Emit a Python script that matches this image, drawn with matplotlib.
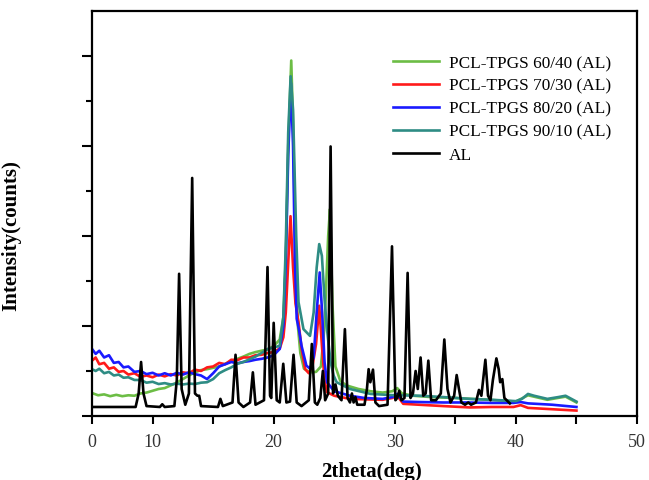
import matplotlib
matplotlib.use("Agg")
import matplotlib.pyplot as plt
from matplotlib.ticker import FixedLocator

plt.rcParams['font.family'] = ['Liberation Serif', 'DejaVu Serif']

# XRD patterns, 2theta (deg) vs intensity (arbitrary units)
al_x = [5.0, 8.6, 8.85, 9.05, 9.25, 9.5, 10.6, 10.8, 11.0, 11.8, 12.0, 12.19, 12.4, 12.7,
        13.0, 13.27, 13.5, 13.7, 13.85, 14.0, 15.4, 15.6, 15.8, 16.6, 16.85, 17.1, 17.5,
        18.05, 18.28, 18.5, 19.2, 19.49, 19.7, 19.8, 20.0, 20.25, 20.5, 20.79, 21.05, 21.35,
        21.64, 21.9, 22.3, 22.9, 23.15, 23.4, 23.6, 23.85, 24.06, 24.25, 24.5, 24.7, 24.9,
        25.1, 25.3, 25.6, 25.88, 26.1, 26.3, 26.46, 26.6, 26.75, 26.9, 27.5, 27.7, 27.84,
        27.98, 28.2, 28.4, 28.7, 29.4, 29.77, 30.05, 30.2, 30.37, 30.55, 30.8, 31.06, 31.3,
        31.5, 31.72, 31.9, 32.13, 32.35, 32.55, 32.77, 33.0, 33.4, 33.8, 34.09, 34.35, 34.6,
        34.9, 35.11, 35.3, 35.5, 35.8, 36.07, 36.3, 36.7, 36.95, 37.15, 37.48, 37.7, 37.9,
        38.1, 38.39, 38.58, 38.7, 38.88, 39.05, 39.5]
al_y = [0.2, 0.2, 0.5, 1.2, 0.5, 0.22, 0.2, 0.26, 0.2, 0.22, 0.8, 3.16, 0.6, 0.25,
        0.5, 5.29, 0.5, 0.45, 0.45, 0.22, 0.2, 0.38, 0.22, 0.3, 1.36, 0.3, 0.2,
        0.3, 0.97, 0.25, 0.35, 3.31, 0.45, 0.4, 2.07, 0.35, 0.3, 1.16, 0.3, 0.32,
        1.36, 0.3, 0.22, 0.35, 1.6, 0.3, 0.25, 0.4, 1.0, 0.35, 0.5, 5.99, 0.5,
        0.7, 0.45, 0.35, 1.93, 0.4, 0.3, 0.5, 0.3, 0.42, 0.25, 0.25, 0.6, 1.04,
        0.75, 1.03, 0.3, 0.22, 0.25, 3.77, 0.35, 0.4, 0.56, 0.35, 0.4, 3.18, 0.4,
        0.5, 1.0, 0.6, 1.3, 0.45, 0.5, 1.23, 0.35, 0.35, 0.5, 1.7, 0.6, 0.3,
        0.45, 0.91, 0.6, 0.3, 0.25, 0.3, 0.25, 0.3, 0.58, 0.45, 1.25, 0.45, 0.35,
        0.8, 1.28, 1.04, 0.75, 0.82, 0.4, 0.28]

pcl60_x = [5.0, 5.5, 6.0, 6.5, 7.0, 7.5, 8.0, 8.5, 9.0, 9.5, 10.0, 10.5, 11.0, 11.5, 12.0,
           12.5, 13.0, 13.5, 14.0, 14.5, 15.0, 15.5, 16.0, 16.5, 17.0, 17.5, 18.0, 18.5,
           19.0, 19.5, 20.0, 20.5, 20.8, 21.0, 21.2, 21.45, 21.6, 21.8, 22.0, 22.2, 22.5,
           23.0, 23.5, 23.9, 24.2, 24.5, 24.65, 24.85, 25.1, 25.5, 26.0, 27.0, 28.0, 29.0,
           29.8, 30.2, 30.6, 31.5, 33.0, 35.0, 37.0, 39.0, 40.0, 41.0, 42.6, 44.1, 45.0]
pcl60_y = [0.51, 0.46, 0.48, 0.44, 0.47, 0.44, 0.46, 0.45, 0.5, 0.52, 0.56, 0.6, 0.62, 0.68,
           0.74, 0.82, 0.9, 0.97, 1.02, 1.04, 1.07, 1.1, 1.16, 1.22, 1.27, 1.32, 1.38, 1.42,
           1.45, 1.48, 1.55, 1.7, 2.2, 3.5, 6.0, 7.9, 6.5, 3.5, 2.0, 1.4, 1.05,
           0.97, 0.98, 1.1, 2.0, 4.0, 4.6, 2.5, 1.1, 0.78, 0.68, 0.6, 0.55, 0.52,
           0.55, 0.62, 0.5, 0.45, 0.42, 0.4, 0.37, 0.34, 0.32, 0.46, 0.36, 0.43, 0.3]

pcl70_x = [5.0, 5.3, 5.6, 6.0, 6.4, 6.8, 7.2, 7.6, 8.0, 8.5, 9.0, 9.5, 10.0, 10.5, 11.0,
           11.5, 12.0, 12.5, 13.0, 13.5, 14.0, 14.5, 15.0, 15.5, 16.0, 16.5, 17.0, 17.5,
           18.0, 18.5, 19.0, 19.5, 20.0, 20.5, 20.8, 21.0, 21.2, 21.39, 21.6, 21.8, 22.05,
           22.3, 22.6, 22.9, 23.2, 23.5, 23.76, 24.0, 24.2, 24.4, 25.0, 26.3, 27.5, 29.0,
           29.8, 30.2, 30.7, 32.0, 34.0, 36.2, 38.0, 39.8, 40.4, 41.0, 43.0, 45.0]
pcl70_y = [1.23, 1.3, 1.15, 1.18, 1.05, 1.08, 0.98, 1.0, 0.92, 0.95, 0.87, 0.9, 0.86, 0.92,
           0.88, 0.93, 0.9, 0.97, 0.95, 1.03, 1.0, 1.08, 1.1, 1.18, 1.15, 1.25, 1.24, 1.3,
           1.3, 1.35, 1.36, 1.4, 1.42, 1.5, 1.75, 2.3, 3.4, 4.44, 3.3, 2.5, 2.09,
           1.5, 1.04, 0.95, 1.1, 1.6, 2.45, 1.5, 0.8, 0.53, 0.45, 0.38, 0.37, 0.36,
           0.4, 0.45, 0.27, 0.25, 0.22, 0.19, 0.2, 0.2, 0.24, 0.18, 0.15, 0.12]

pcl80_x = [5.0, 5.3, 5.6, 6.0, 6.4, 6.8, 7.2, 7.6, 8.0, 8.5, 9.0, 9.5, 10.0, 10.5, 11.0,
           11.5, 12.0, 12.5, 13.0, 13.5, 14.0, 14.5, 15.0, 15.5, 16.0, 16.5, 17.0, 17.5,
           18.0, 18.5, 19.0, 19.5, 20.0, 20.5, 20.8, 21.0, 21.2, 21.42, 21.6, 21.75, 21.9,
           22.1, 22.3, 22.7, 23.0, 23.3, 23.55, 23.8, 24.0, 24.2, 24.4, 25.0, 26.3, 27.5,
           29.0, 29.8, 30.2, 30.7, 32.0, 34.0, 36.0, 38.0, 39.8, 40.4, 41.0, 43.0, 45.0]
pcl80_y = [1.49, 1.38, 1.45, 1.3, 1.35, 1.18, 1.2, 1.08, 1.1, 0.98, 1.0, 0.93, 0.96, 0.9,
           0.95, 0.9, 0.96, 0.92, 0.97, 0.93, 0.9, 0.82, 0.95, 1.1, 1.15, 1.2, 1.17, 1.2,
           1.22, 1.25, 1.27, 1.3, 1.35, 1.49, 2.0, 3.4, 5.8, 7.4, 6.0, 3.5, 2.16,
           1.9, 1.56, 1.12, 1.05, 1.3, 2.3, 3.19, 2.3, 1.2, 0.75, 0.55, 0.45, 0.4,
           0.38, 0.42, 0.49, 0.32, 0.31, 0.3, 0.3, 0.29, 0.29, 0.31, 0.28, 0.25, 0.2]

pcl90_x = [5.0, 5.3, 5.6, 6.0, 6.4, 6.8, 7.2, 7.6, 8.0, 8.5, 9.0, 9.5, 10.0, 10.5, 11.0,
           11.5, 12.0, 12.5, 13.0, 13.5, 14.0, 14.5, 15.0, 15.5, 16.0, 16.5, 17.0, 17.5,
           18.0, 18.5, 19.0, 19.5, 20.0, 20.5, 20.8, 21.0, 21.2, 21.4, 21.6, 21.86, 22.05,
           22.46, 23.0, 23.3, 23.55, 23.76, 23.98, 24.2, 24.4, 24.7, 24.95, 25.2, 26.3,
           28.0, 30.0, 32.1, 34.0, 36.2, 38.0, 40.0, 40.5, 41.0, 41.5, 42.6, 43.5, 44.1, 45.0]
pcl90_y = [1.04, 1.0, 1.05, 0.95, 0.98, 0.9, 0.92, 0.85, 0.86, 0.8, 0.8, 0.74, 0.76, 0.71,
           0.73, 0.7, 0.72, 0.7, 0.72, 0.71, 0.74, 0.75, 0.82, 0.95, 1.02, 1.08, 1.16, 1.2,
           1.26, 1.32, 1.4, 1.49, 1.52, 1.56, 2.2, 3.8, 6.3, 7.55, 6.8, 4.0, 2.53,
           1.93, 1.78, 2.3, 3.3, 3.82, 3.56, 2.6, 1.93, 1.2, 0.9, 0.75, 0.6,
           0.49, 0.46, 0.45, 0.42, 0.38, 0.36, 0.33, 0.38, 0.49, 0.45, 0.38, 0.42, 0.45, 0.32]

labels = ['PCL-TPGS 60/40 (AL)', 'PCL-TPGS 70/30 (AL)', 'PCL-TPGS 80/20 (AL)',
          'PCL-TPGS 90/10 (AL)', 'AL']
colors = ['#6cbd45', '#ff1a1a', '#1a1aff', '#2e8c84', '#000000']

x_ticks = [5, 10, 20, 30, 40, 50]
x_tick_labels = ['0', '10', '20', '30', '40', '50']

fig = plt.figure(figsize=(6.49, 4.81), dpi=100)
ax = fig.add_axes([0.1418, 0.1331, 0.8397, 0.8419])

series = [(pcl60_x, pcl60_y), (pcl70_x, pcl70_y), (pcl80_x, pcl80_y),
          (pcl90_x, pcl90_y), (al_x, al_y)]
for (xs, ys), lab, c in zip(series, labels, colors):
    ax.plot(xs, ys, color=c, lw=1.9, label=lab)

ax.set_xlim(5, 50)
ax.set_ylim(0, 9)
ax.set_xticks(x_ticks)
ax.set_xticklabels(x_tick_labels)
ax.xaxis.set_minor_locator(FixedLocator([15, 25, 35, 45]))
ax.set_yticks([0, 2, 4, 6, 8])
ax.set_yticklabels([])
ax.yaxis.set_minor_locator(FixedLocator([1, 3, 5, 7]))

for s in ax.spines.values():
    s.set_linewidth(1.6)
ax.tick_params(axis='x', which='both', direction='out', length=6, width=1.5,
               labelsize=13, pad=6, colors='black', labelcolor='#333333')
ax.tick_params(axis='y', which='major', direction='out', length=7, width=1.5)
ax.tick_params(axis='y', which='minor', direction='out', length=4, width=1.5)

ax.set_xlabel('2theta(deg)', fontsize=15, fontweight='bold', labelpad=8)
ax.xaxis.label.set_x(0.512)
ax.set_ylabel('Intensity(counts)', fontsize=15, fontweight='bold')
ax.yaxis.set_label_coords(-0.130, 0.449)

ax.legend(loc='upper left', bbox_to_anchor=(0.536, 0.913), frameon=False, fontsize=12.4,
          handlelength=2.7, handletextpad=0.55, labelspacing=0.4, borderpad=0)

fig.savefig('out.png', dpi=100)
